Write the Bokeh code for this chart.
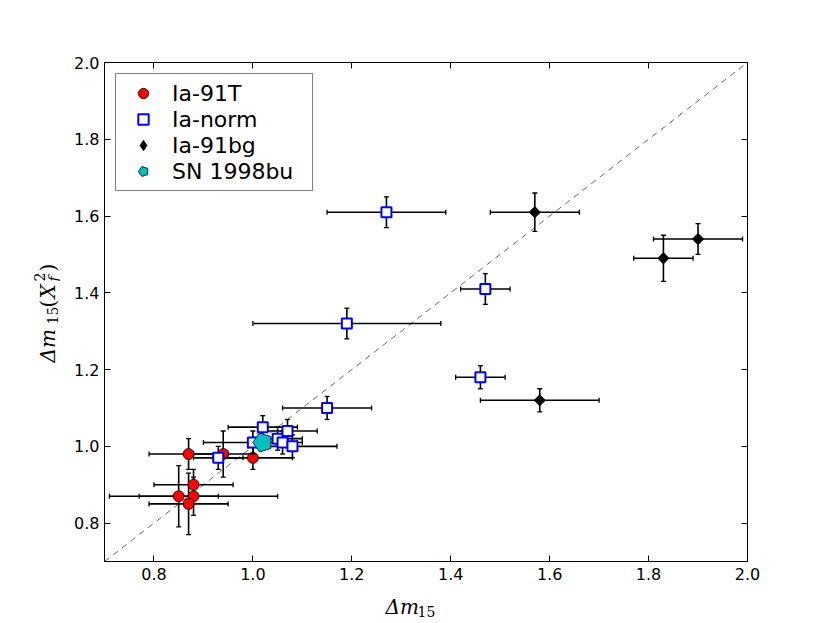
import math
from bokeh.plotting import figure
from bokeh.layouts import row, column
from bokeh.models import (LinearAxis, FixedTicker, PrintfTickFormatter, CustomJSTickFormatter,
                          Range1d, Legend, LegendItem, Label)
from bokeh.embed import file_html
from bokeh.resources import INLINE

# ---------------- data ----------------
t91_x = [0.87, 0.94, 1.00, 0.88, 0.85, 0.88, 0.87]
t91_y = [0.98, 0.98, 0.97, 0.90, 0.87, 0.87, 0.85]
t91_xerr = [0.08, 0.06, 0.08, 0.08, 0.08, 0.17, 0.08]
t91_yerr = [0.04, 0.06, 0.03, 0.04, 0.08, 0.05, 0.08]

norm_x = [0.93, 1.00, 1.02, 1.05, 1.06, 1.07, 1.08, 1.15, 1.19, 1.27, 1.46, 1.47]
norm_y = [0.97, 1.01, 1.05, 1.02, 1.01, 1.04, 1.00, 1.10, 1.32, 1.61, 1.18, 1.41]
norm_xerr = [0.05, 0.10, 0.07, 0.05, 0.03, 0.06, 0.09, 0.09, 0.19, 0.12, 0.05, 0.05]
norm_yerr = [0.03, 0.03, 0.03, 0.03, 0.03, 0.03, 0.03, 0.03, 0.04, 0.04, 0.03, 0.04]

bg_x = [1.57, 1.90, 1.83, 1.58]
bg_y = [1.61, 1.54, 1.49, 1.12]
bg_xerr = [0.09, 0.09, 0.06, 0.12]
bg_yerr = [0.05, 0.04, 0.06, 0.03]

sn_x = [1.02]
sn_y = [1.01]

diag = [0.7, 2.0]
ticks = [0.8, 1.0, 1.2, 1.4, 1.6, 1.8, 2.0]
labels = ["Ia-91T", "Ia-norm", "Ia-91bg", "SN 1998bu"]

# ---------------- layout (picture pixels) ----------------
TOTAL_W, TOTAL_H = 822, 620
LW = 60            # left strip holding the y-axis title
XT = 586           # top of the strip holding the x-axis title
FL, FR, FT, FB = 104, 747, 62, 561   # frame edges
XMIN, XMAX, YMIN, YMAX = 0.7, 2.0, 0.7, 2.0

MW, MH = TOTAL_W - LW, XT

p = figure(width=MW, height=MH, x_range=Range1d(XMIN, XMAX), y_range=Range1d(YMIN, YMAX),
           output_backend="svg", toolbar_location=None,
           x_axis_location=None, y_axis_location=None,
           min_border_left=FL - LW, min_border_right=TOTAL_W - FR,
           min_border_top=FT, min_border_bottom=MH - FB)
p.grid.visible = False
p.outline_line_color = "black"
p.outline_line_width = 1
p.background_fill_color = "white"
p.border_fill_color = "white"


def mk_axis(show):
    ax = LinearAxis(ticker=FixedTicker(ticks=ticks))
    ax.formatter = PrintfTickFormatter(format="%.1f") if show else CustomJSTickFormatter(code="return ''")
    ax.major_tick_in = 6
    ax.major_tick_out = 0
    ax.minor_tick_in = 0
    ax.minor_tick_out = 0
    ax.axis_line_color = "black"
    ax.major_tick_line_color = "black"
    ax.major_label_text_font = "DejaVu Sans"
    ax.major_label_text_font_size = "16px"
    ax.major_label_text_color = "black"
    return ax

axb = mk_axis(True); axb.major_label_standoff = 6
axl = mk_axis(True); axl.major_label_standoff = 5
p.add_layout(axb, "below")
p.add_layout(axl, "left")
p.add_layout(mk_axis(False), "above")
p.add_layout(mk_axis(False), "right")

# identity line
p.line(diag, diag, line_color="#444444", line_width=0.8, line_dash="6 5")

EC = "black"


def errbars(x, y, xe, ye):
    xl = [a - e for a, e in zip(x, xe)]
    xr = [a + e for a, e in zip(x, xe)]
    yl = [b - e for b, e in zip(y, ye)]
    yh = [b + e for b, e in zip(y, ye)]
    p.segment(x0=xl, y0=y, x1=xr, y1=y, line_color=EC, line_width=1.6)
    p.segment(x0=x, y0=yl, x1=x, y1=yh, line_color=EC, line_width=1.6)
    p.scatter(x=xl + xr, y=list(y) + list(y), marker="dash", angle=math.pi / 2, size=5,
              line_color=EC, line_width=1.3)
    p.scatter(x=list(x) + list(x), y=yl + yh, marker="dash", size=5, line_color=EC, line_width=1.3)


errbars(t91_x, t91_y, t91_xerr, t91_yerr)
r1 = p.scatter(t91_x, t91_y, marker="circle", size=11, fill_color="#FF0000",
               line_color="black", line_width=0.8)
errbars(norm_x, norm_y, norm_xerr, norm_yerr)
r2 = p.scatter(norm_x, norm_y, marker="square", size=10, fill_color="white",
               line_color="#0000FF", line_width=2)
errbars(bg_x, bg_y, bg_xerr, bg_yerr)
r3 = p.scatter(bg_x, bg_y, marker="square", angle=math.pi / 4, size=8, fill_color="black",
               line_color="black", line_width=0.8)
# legend stand-in for the rotated squares (draws nothing in the plot itself)
r3_leg = p.scatter(bg_x, bg_y, marker="diamond", size=0, fill_color="black",
                   line_color="black", line_width=0.8)
r4 = p.ngon(x=sn_x, y=sn_y, radius=10, radius_units="screen", n=5, angle=math.pi / 2,
            fill_color="#00BFBF", line_color="black", line_width=0.8)

legend = Legend(items=[LegendItem(label=labels[0], renderers=[r1]),
                       LegendItem(label=labels[1], renderers=[r2]),
                       LegendItem(label=labels[2], renderers=[r3_leg]),
                       LegendItem(label=labels[3], renderers=[r4])],
                location="top_left")
legend.label_text_font = "DejaVu Sans"
legend.label_text_font_size = "22px"
legend.label_text_color = "black"
legend.border_line_color = "black"
legend.border_line_width = 1
legend.background_fill_alpha = 1.0
legend.padding = 6
legend.spacing = 0
legend.margin = 11
legend.glyph_height = 26
legend.glyph_width = 42
legend.label_height = 26
legend.label_width = 134
legend.label_standoff = 8
p.add_layout(legend)

# ---------------- axis titles (math-like pieces) ----------------
SERIF = "DejaVu Serif"
REF = 700   # vertical flip reference for the strip coordinates


def strip(w, h, x0, y_top):
    f = figure(width=w, height=h, output_backend="svg", toolbar_location=None,
               x_axis_location=None, y_axis_location=None,
               x_range=Range1d(x0, x0 + w), y_range=Range1d(REF - (y_top + h), REF - y_top),
               min_border=0, min_border_left=0, min_border_right=0,
               min_border_top=0, min_border_bottom=0)
    f.grid.visible = False
    f.outline_line_color = None
    f.background_fill_color = "white"
    f.border_fill_color = "white"
    return f


def piece(f, px, py, txt, size, italic=False, angle=0.0):
    f.add_layout(Label(x=px, y=REF - py, x_units="data", y_units="data", text=txt,
                       text_font=SERIF, text_font_size=f"{size}px",
                       text_font_style="italic" if italic else "normal",
                       text_color="black", text_align="left", text_baseline="alphabetic",
                       angle=angle))

# x title: Δm_15
xs = strip(MW, TOTAL_H - XT, LW, XT)
piece(xs, 393, 606, "Δm", 20, italic=True)
piece(xs, 431, 611, "15", 14)

# y title: Δm_15(X^2_f), rotated
ys = strip(LW, TOTAL_H, 0, 0)
A = math.pi / 2
piece(ys, 47, 362, "Δm", 20, italic=True, angle=A)
piece(ys, 52, 324, "15", 14, angle=A)
piece(ys, 47, 307, "(", 20, angle=A)
piece(ys, 47, 298, "X", 20, italic=True, angle=A)
piece(ys, 39, 281, "2", 14, angle=A)
piece(ys, 53, 281, "f", 14, italic=True, angle=A)
piece(ys, 47, 271, ")", 20, angle=A)

layout = row(ys, column(p, xs, spacing=0), spacing=0)

open("out.html", "w").write(file_html(layout, INLINE))
